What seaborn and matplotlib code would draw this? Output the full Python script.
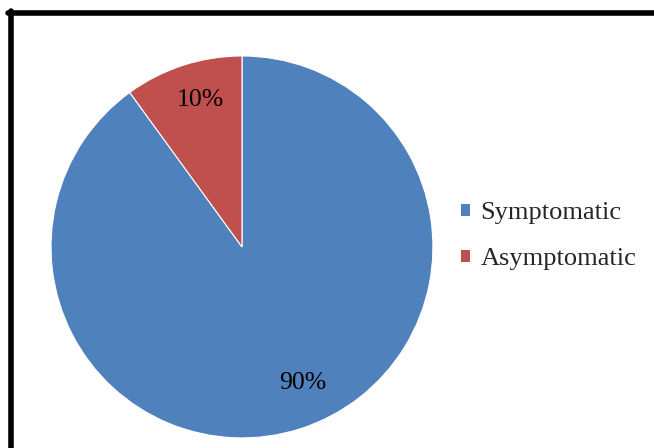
import matplotlib
matplotlib.use("Agg")
import numpy as np
import matplotlib.pyplot as plt
import seaborn as sns
from matplotlib.patches import Patch
from matplotlib.lines import Line2D

categories = ["Symptomatic", "Asymptomatic"]
shares = [90, 10]
colors = ["#4F81BD", "#C0504D"]

sns.set_theme(style="white")
plt.rcParams["font.family"] = ["Liberation Serif", "DejaVu Serif"]

fig = plt.figure(figsize=(6.54, 4.48), dpi=100)
ax = fig.add_axes([0.078, 0.0223, 0.584, 0.853])

wedges, texts, autotexts = ax.pie(
    shares,
    colors=colors,
    startangle=90,
    counterclock=False,
    autopct="%d%%",
    pctdistance=0.8,
    wedgeprops=dict(edgecolor="white", linewidth=0.8),
    textprops=dict(fontsize=18.5, color="black"),
)
# excel-style "best fit" spot for the big slice label
ang = np.deg2rad(-66)
autotexts[0].set_position((0.78 * np.cos(ang), 0.78 * np.sin(ang)))
ang = np.deg2rad(106)
autotexts[1].set_position((0.8 * np.cos(ang), 0.8 * np.sin(ang)))

ax.set_xlim(-1, 1)
ax.set_ylim(-1, 1)
ax.set_aspect("equal")

# thick black frame, cut off at right and bottom
fig.add_artist(Line2D([8 / 654, 1], [1 - 13.5 / 448] * 2, color="black", lw=4, transform=fig.transFigure))
fig.add_artist(Line2D([10.5 / 654] * 2, [0, 1 - 11.5 / 448], color="black", lw=4, transform=fig.transFigure))

handles = [Patch(facecolor=c, edgecolor="none") for c in colors]
fig.legend(
    handles, categories,
    loc="upper left", bbox_to_anchor=(443 / 654, 1 - 184 / 448),
    frameon=False, fontsize=19,
    handlelength=0.34, handleheight=0.34, handletextpad=0.38,
    labelspacing=0.9, borderpad=0.2,
)

fig.savefig("out.png", dpi=100)
